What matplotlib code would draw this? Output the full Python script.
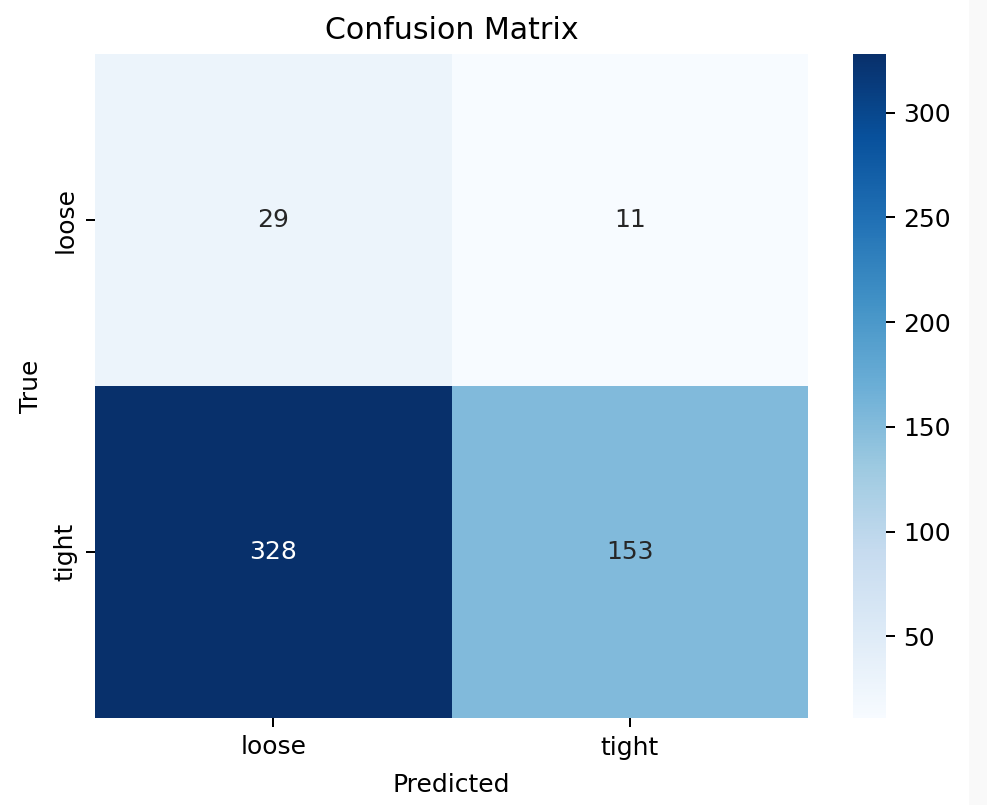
import matplotlib
matplotlib.use("Agg")
import matplotlib.pyplot as plt
from matplotlib.patches import Rectangle
import seaborn as sns
import numpy as np

labels = ["loose", "tight"]
row_loose = [29, 11]
row_tight = [328, 153]

cm = np.array([row_loose, row_tight])

DPI = 180
W, H = 987, 805
fig = plt.figure(figsize=(W / DPI, H / DPI), dpi=DPI)
fig.patches.append(Rectangle((969 / W, 0), (W - 969) / W, 1, transform=fig.transFigure,
                             facecolor="#f9f9f9", edgecolor="none", zorder=-1))

ax = fig.add_axes([95 / W, 1 - 718 / H, (808 - 95) / W, (718 - 54) / H])
cax = fig.add_axes([853 / W, 1 - 718 / H, (886 - 853) / W, (718 - 54) / H])

sns.heatmap(cm, annot=True, fmt="d", cmap="Blues", xticklabels=labels, yticklabels=labels,
            ax=ax, cbar_ax=cax)
ax.set_title("Confusion Matrix")
ax.set_xlabel("Predicted", labelpad=5.2)
ax.set_ylabel("True")
cax.tick_params(length=3.5)

fig.savefig("out.png", dpi=DPI)
